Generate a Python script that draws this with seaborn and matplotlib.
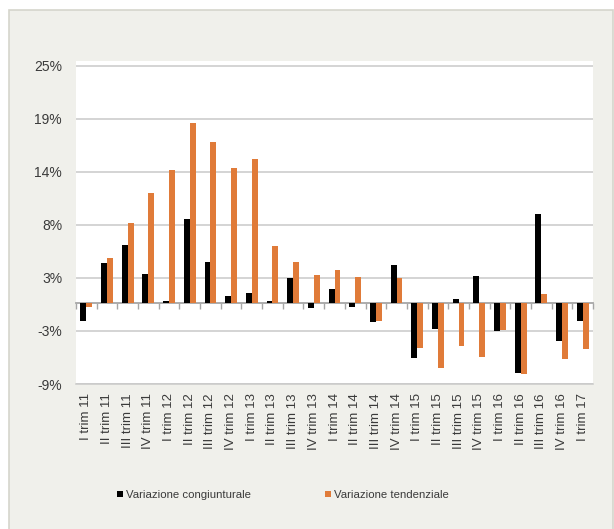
import numpy as np
import pandas as pd
import matplotlib
matplotlib.use("Agg")
import matplotlib.pyplot as plt
from matplotlib.patches import Rectangle
import seaborn as sns

# ---- data -------------------------------------------------------------
categories = ["I trim 11", "II trim 11", "III trim 11", "IV trim 11",
              "I trim 12", "II trim 12", "III trim 12", "IV trim 12",
              "I trim 13", "II trim 13", "III trim 13", "IV trim 13",
              "I trim 14", "II trim 14", "III trim 14", "IV trim 14",
              "I trim 15", "II trim 15", "III trim 15", "IV trim 15",
              "I trim 16", "II trim 16", "III trim 16", "IV trim 16",
              "I trim 17"]
congiunturale = [-1.9, 4.2, 6.1, 3.0, 0.2, 8.8, 4.3, 0.7, 1.0, 0.2, 2.6, -0.6,
                 1.4, -0.5, -2.1, 4.0, -5.9, -2.8, 0.4, 2.8, -3.0, -7.4, 9.4,
                 -4.1, -2.0]
tendenziale = [-0.5, 4.7, 8.4, 11.6, 14.0, 19.0, 16.9, 14.2, 15.2, 6.0, 4.3,
               2.9, 3.4, 2.7, -2.0, 2.6, -4.8, -6.9, -4.6, -5.7, -2.9, -7.5,
               0.9, -6.0, -4.9]
series_names = ["Variazione congiunturale", "Variazione tendenziale"]
ytick_labels = ["-9%", "-3%", "3%", "8%", "14%", "19%", "25%"]

# ---- axis constants ----------------------------------------------------
Y_MIN, Y_STEP = -8.6, 5.6
Y_TOP = 25.5
colors = ["#000000", "#E07B39"]
text_color = "#3a3a3a"
grid_color = "#c9c9c9"

df = pd.DataFrame({
    "periodo": categories * 2,
    "valore": congiunturale + tendenziale,
    "serie": [series_names[0]] * len(categories) + [series_names[1]] * len(categories),
})

sns.set_theme(style="white")
plt.rcParams["font.family"] = ["Liberation Sans", "DejaVu Sans"]

fig = plt.figure(figsize=(6.14, 5.29), dpi=100, facecolor="white")
W, H = 614, 529

# background panel
panel = Rectangle((8.5 / W, 0 - 0.01), (612.5 - 8.5) / W, (1 - 10.5 / H) + 0.01,
                  transform=fig.transFigure, facecolor="#F0F0EB",
                  edgecolor="#D5D5CC", linewidth=1.2, zorder=-10)
fig.add_artist(panel)

ax = fig.add_axes([76 / W, 1 - 384 / H, (593 - 76) / W, (384 - 61) / H])
ax.set_zorder(1)
ax.set_facecolor("white")

sns.barplot(data=df, x="periodo", y="valore", hue="serie", order=categories,
            hue_order=series_names, palette=colors, saturation=1,
            width=0.57, gap=0, ax=ax, legend=True, linewidth=0)

n = len(categories)
ax.set_xlim(-0.5, n - 0.5)
ax.set_ylim(Y_MIN, Y_TOP)
yticks = [Y_MIN + Y_STEP * i for i in range(len(ytick_labels))]
ax.set_yticks(yticks)
ax.set_yticklabels(ytick_labels, fontsize=10, color=text_color)
ax.yaxis.grid(True, color=grid_color, linewidth=1.1)
ax.set_axisbelow(True)
ax.tick_params(axis="y", length=0, pad=10)

ax.set_xticks(range(n))
ax.set_xticklabels(categories, rotation=90, fontsize=9.5, color=text_color)
ax.tick_params(axis="x", length=0, pad=6.5)
ax.set_xlabel("")
ax.set_ylabel("")

for s in ["left", "right", "top"]:
    ax.spines[s].set_visible(False)
ax.spines["bottom"].set_color(grid_color)
ax.spines["bottom"].set_linewidth(1.1)

# zero axis with boundary ticks
sec = ax.secondary_xaxis(0, transform=ax.transData)
sec.set_xticks(np.arange(-0.5, n, 1.0))
sec.tick_params(axis="x", direction="out", length=4, width=1,
                color="#a6a6a6", labelbottom=False)
sec.spines["bottom"].set_color("#a6a6a6")
sec.spines["bottom"].set_linewidth(1.3)

handles, labels = ax.get_legend_handles_labels()
ax.get_legend().remove()
fig.legend(handles, labels, loc="center", bbox_to_anchor=(283 / W, 1 - 495 / H),
           ncol=2, frameon=False, fontsize=8.2, handlelength=0.55,
           handleheight=0.55, handletextpad=0.25, columnspacing=6.5,
           labelcolor=text_color)

fig.savefig("out.png", dpi=100, facecolor="white")
